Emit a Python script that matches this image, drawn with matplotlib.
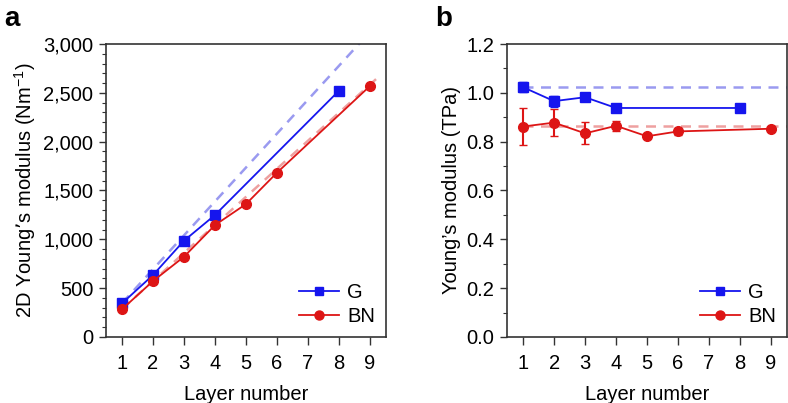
import matplotlib
matplotlib.use("Agg")
import matplotlib.pyplot as plt
from matplotlib.ticker import MultipleLocator, FuncFormatter
from matplotlib.lines import Line2D
import numpy as np

plt.rcParams['font.family'] = ['Liberation Sans', 'DejaVu Sans']
plt.rcParams['font.size'] = 14.5

# panel a: 2D modulus
g_layers = [1, 2, 3, 4, 8]
g_2d = [345, 635, 986, 1249, 2521]
bn_layers = [1, 2, 3, 4, 5, 6, 9]
bn_2d = [285, 573, 822, 1146, 1361, 1682, 2569]
g_slope = 347
bn_slope = 287

# panel b: Young's modulus (TPa)
g_E = [1.023, 0.966, 0.982, 0.938, 0.938]
g_err = [0.02, 0.022, 0.01, 0.006, 0.006]
bn_E = [0.862, 0.878, 0.834, 0.865, 0.822, 0.842, 0.853]
bn_err = [0.075, 0.055, 0.045, 0.02, 0.008, 0.015, 0.006]
g_E_ref = 1.022
bn_E_ref = 0.865

blue = '#1515ee'
red = '#dd1515'
lblue = '#9a9af0'
lred = '#eea0a0'

fig = plt.figure(figsize=(7.88, 4.03), dpi=100)
ax1 = fig.add_axes([0.1345, 0.1638, 0.3553, 0.727])
ax2 = fig.add_axes([0.6434, 0.1638, 0.3553, 0.727])

xfit = np.array([1, 9.32])
ax1.plot(xfit, g_slope * xfit, '--', color=lblue, lw=1.8, dashes=(4, 3))
ax1.plot(xfit, bn_slope * xfit, '--', color=lred, lw=1.8, dashes=(4, 3))
ax1.plot(g_layers, g_2d, '-s', color=blue, ms=6.5, lw=1.3)
ax1.plot(bn_layers, bn_2d, '-o', color=red, ms=7, lw=1.3)
ax1.set_xlim(0.48, 9.52)
ax1.set_ylim(0, 3000)
ax1.yaxis.set_major_locator(MultipleLocator(500))
ax1.yaxis.set_minor_locator(MultipleLocator(100))
ax1.yaxis.set_major_formatter(FuncFormatter(lambda v, p: f'{int(v):,}'))
ax1.set_ylabel('2D Young\u2019s modulus (Nm$^{\\mathregular{-1}}$)')

ax2.plot([1, 9.52], [g_E_ref, g_E_ref], '--', color=lblue, lw=1.8, dashes=(4, 3))
ax2.plot([1, 9.52], [bn_E_ref, bn_E_ref], '--', color=lred, lw=1.8, dashes=(4, 3))
ax2.errorbar(g_layers, g_E, yerr=g_err, fmt='-s', color=blue, ms=6.5, lw=1.3,
             elinewidth=1.5, capsize=3)
ax2.errorbar(bn_layers, bn_E, yerr=bn_err, fmt='-o', color=red, ms=7, lw=1.3,
             elinewidth=1.5, capsize=3)
ax2.set_xlim(0.48, 9.52)
ax2.set_ylim(0, 1.2)
ax2.yaxis.set_major_locator(MultipleLocator(0.2))
ax2.yaxis.set_minor_locator(MultipleLocator(0.1))
ax2.yaxis.set_major_formatter(FuncFormatter(lambda v, p: f'{v:.1f}'))
ax2.set_ylabel('Young\u2019s modulus (TPa)')

handles = [Line2D([], [], color=blue, marker='s', ms=6, lw=1.3),
           Line2D([], [], color=red, marker='o', ms=6.5, lw=1.3)]

for ax in (ax1, ax2):
    ax.set_xticks(range(1, 10))
    ax.set_xlabel('Layer number', labelpad=9)
    ax.tick_params(which='major', direction='out', length=5, width=1, pad=4,
                   color='#333333')
    ax.tick_params(which='minor', direction='out', length=3, width=0.8,
                   color='#333333')
    ax.tick_params(axis='x', which='major', length=6, pad=6)
    for s in ax.spines.values():
        s.set_linewidth(1.2)
        s.set_color('#333333')
    ax.legend(handles, ['G', 'BN'], loc='lower right', frameon=False,
              handlelength=2.0, handletextpad=0.4, labelspacing=0.25,
              borderaxespad=0.15)

fig.text(0.006, 0.935, 'a', fontsize=20, fontweight='bold')
fig.text(0.552, 0.935, 'b', fontsize=20, fontweight='bold')

fig.savefig('out.png', dpi=100)
